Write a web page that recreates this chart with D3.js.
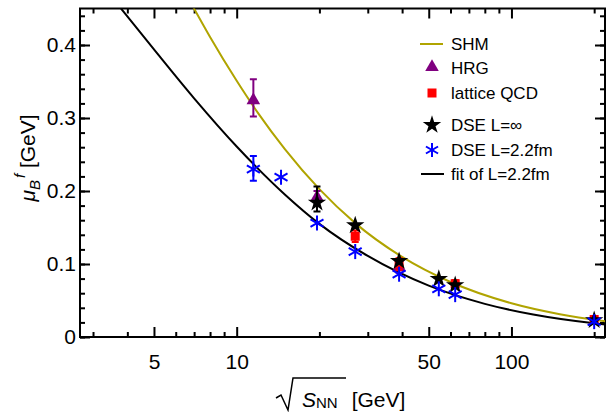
<!DOCTYPE html>
<meta charset="utf-8">
<style>
  body { margin: 0; background: #fff; }
  text { font-family: "Liberation Sans", Arial, sans-serif; }
</style>
<div id="chart"></div>
<script src="https://d3js.org/d3.v7.min.js"></script>
<script>

// curves
var shmEnergy = [6.9, 8, 10, 12, 15, 20, 27, 40, 60, 100, 150, 220];
var shmMu     = [0.454, 0.411, 0.351, 0.306, 0.257, 0.2025, 0.156, 0.1097, 0.0753, 0.0462, 0.0312, 0.0214];
var fitEnergy = [3.7, 5, 7, 10, 15, 20, 30, 50, 80, 120, 200, 220];
var fitMu     = [0.455, 0.394, 0.327, 0.261, 0.195, 0.155, 0.111, 0.0703, 0.0454, 0.0308, 0.0188, 0.0171];

// HRG points
var hrgEnergy = [11.5, 19.6, 39];
var hrgMu     = [0.323, 0.190, 0.094];
var hrgLow    = [0.302, 0.180, 0.088];
var hrgHigh   = [0.353, 0.200, 0.100];

// lattice QCD points
var latEnergy = [27, 39, 62.4, 200];
var latMu     = [0.138, 0.100, 0.073, 0.024];
var latLow    = [0.130, 0.092, 0.068, 0.020];
var latHigh   = [0.146, 0.108, 0.078, 0.028];

// DSE infinite volume
var dseEnergy = [19.6, 27, 39, 54.4, 62.4, 200];
var dseMu     = [0.184, 0.153, 0.104, 0.0795, 0.071, 0.023];

// DSE L=2.2fm
var dseLEnergy = [11.5, 14.5, 19.6, 27, 39, 54.4, 62.4, 200];
var dseLMu     = [0.230, 0.219, 0.156, 0.117, 0.086, 0.066, 0.058, 0.021];

var xMajor = [5, 10, 50, 100];
var yMajor = [0, 0.1, 0.2, 0.3, 0.4];

var W = 611, H = 412;
var pLeft = 80, pRight = 605, pTop = 8.5, pBottom = 337;

var svg = d3.select("#chart").append("svg")
  .attr("width", W).attr("height", H);

var x = d3.scaleLog().domain([2.69, 219]).range([pLeft, pRight]);
var y = d3.scaleLinear().domain([0, 0.45]).range([pBottom, pTop]);

var yMinor = d3.range(0, 0.45, 0.02).map(function(v){ return +v.toFixed(2); });
var xMinor = x.ticks().filter(function(v){ return xMajor.indexOf(v) < 0; });

svg.append("clipPath").attr("id", "plotclip")
  .append("rect").attr("x", pLeft).attr("y", pTop)
  .attr("width", pRight - pLeft).attr("height", pBottom - pTop);

// ticks on all four sides, pointing in
function styleAxis(g) {
  g.select(".domain").remove();
  g.selectAll(".tick line").attr("stroke", "#000").attr("stroke-width", 2);
  g.selectAll("text").style("font-size", "21px").attr("fill", "#000");
}
svg.append("g").attr("transform", "translate(0," + pBottom + ")")
  .call(d3.axisBottom(x).tickValues(xMajor).tickSize(-10).tickPadding(17).tickFormat(d3.format("d")))
  .call(styleAxis);
svg.append("g").attr("transform", "translate(0," + pBottom + ")")
  .call(d3.axisBottom(x).tickValues(xMinor).tickSize(-5).tickFormat(""))
  .call(styleAxis);
svg.append("g").attr("transform", "translate(0," + pTop + ")")
  .call(d3.axisTop(x).tickValues(xMajor).tickSize(-10).tickFormat(""))
  .call(styleAxis);
svg.append("g").attr("transform", "translate(0," + pTop + ")")
  .call(d3.axisTop(x).tickValues(xMinor).tickSize(-5).tickFormat(""))
  .call(styleAxis);
svg.append("g").attr("transform", "translate(" + pLeft + ",0)")
  .call(d3.axisLeft(y).tickValues(yMajor).tickSize(-10).tickPadding(4).tickFormat(function(d){ return d === 0 ? "0" : d3.format(".1f")(d); }))
  .call(styleAxis);
svg.append("g").attr("transform", "translate(" + pLeft + ",0)")
  .call(d3.axisLeft(y).tickValues(yMinor).tickSize(-5).tickFormat(""))
  .call(styleAxis);
svg.append("g").attr("transform", "translate(" + pRight + ",0)")
  .call(d3.axisRight(y).tickValues(yMajor).tickSize(-10).tickFormat(""))
  .call(styleAxis);
svg.append("g").attr("transform", "translate(" + pRight + ",0)")
  .call(d3.axisRight(y).tickValues(yMinor).tickSize(-5).tickFormat(""))
  .call(styleAxis);

svg.append("rect")
  .attr("x", pLeft).attr("y", pTop)
  .attr("width", pRight - pLeft).attr("height", pBottom - pTop)
  .attr("fill", "none").attr("stroke", "#000").attr("stroke-width", 2);

// curves
var line = d3.line()
  .x(function(d){ return x(d[0]); })
  .y(function(d){ return y(d[1]); })
  .curve(d3.curveMonotoneX);

var plot = svg.append("g").attr("clip-path", "url(#plotclip)");
plot.append("path")
  .attr("d", line(d3.zip(shmEnergy, shmMu)))
  .attr("fill", "none").attr("stroke", "#b0a400").attr("stroke-width", 2);
plot.append("path")
  .attr("d", line(d3.zip(fitEnergy, fitMu)))
  .attr("fill", "none").attr("stroke", "#000").attr("stroke-width", 2);

function errorBars(g, xs, lo, hi, color) {
  xs.forEach(function(e, i) {
    var px = x(e);
    g.append("line").attr("x1", px).attr("x2", px)
      .attr("y1", y(lo[i])).attr("y2", y(hi[i]))
      .attr("stroke", color).attr("stroke-width", 2);
    [lo[i], hi[i]].forEach(function(v) {
      g.append("line").attr("x1", px - 3.5).attr("x2", px + 3.5)
        .attr("y1", y(v)).attr("y2", y(v))
        .attr("stroke", color).attr("stroke-width", 2);
    });
  });
}

function asterisk(g, px, py, r, color) {
  [90, 30, -30].forEach(function(a) {
    var rad = a * Math.PI / 180;
    g.append("line")
      .attr("x1", px - r * Math.cos(rad)).attr("y1", py - r * Math.sin(rad))
      .attr("x2", px + r * Math.cos(rad)).attr("y2", py + r * Math.sin(rad))
      .attr("stroke", color).attr("stroke-width", 2);
  });
}

var triangle = d3.symbol().type(d3.symbolTriangle).size(80);
var star = d3.symbol().type(d3.symbolStar).size(105);

// HRG
errorBars(plot, hrgEnergy, hrgLow, hrgHigh, "#800080");
hrgEnergy.forEach(function(e, i) {
  plot.append("path").attr("d", triangle)
    .attr("transform", "translate(" + x(e) + "," + (y(hrgMu[i]) - 1) + ")")
    .attr("fill", "#800080");
});

// lattice QCD
errorBars(plot, latEnergy, latLow, latHigh, "#ff0000");
latEnergy.forEach(function(e, i) {
  plot.append("rect")
    .attr("x", x(e) - 4.5).attr("y", y(latMu[i]) - 4.5)
    .attr("width", 9).attr("height", 9).attr("fill", "#ff0000");
});

// DSE infinite
errorBars(plot, [19.6], [0.172], [0.206], "#000");
dseEnergy.forEach(function(e, i) {
  plot.append("path").attr("d", star)
    .attr("transform", "translate(" + x(e) + "," + y(dseMu[i]) + ")")
    .attr("fill", "#000");
});

// DSE L=2.2fm
errorBars(plot, [11.5], [0.214], [0.248], "#0000ff");
dseLEnergy.forEach(function(e, i) {
  asterisk(plot, x(e), y(dseLMu[i]), 7.5, "#0000ff");
});

// legend
var lg = svg.append("g").style("font-size", "17px");
var rows = [44, 68, 93, 125, 150, 174];
var labels = ["SHM", "HRG", "lattice QCD", "DSE L=\u221e", "DSE L=2.2fm", "fit of L=2.2fm"];
labels.forEach(function(t, i) {
  lg.append("text").attr("x", 451).attr("y", rows[i] + 6).text(t);
});
lg.append("line").attr("x1", 420).attr("x2", 443).attr("y1", rows[0]).attr("y2", rows[0])
  .attr("stroke", "#b0a400").attr("stroke-width", 2);
lg.append("path").attr("d", triangle).attr("transform", "translate(432," + (rows[1] - 1) + ")").attr("fill", "#800080");
lg.append("rect").attr("x", 427.5).attr("y", rows[2] - 4.5).attr("width", 9).attr("height", 9).attr("fill", "#ff0000");
lg.append("path").attr("d", star).attr("transform", "translate(432," + rows[3] + ")").attr("fill", "#000");
asterisk(lg, 432, rows[4], 7, "#0000ff");
lg.append("line").attr("x1", 421).attr("x2", 444).attr("y1", rows[5]).attr("y2", rows[5])
  .attr("stroke", "#000").attr("stroke-width", 2);

// y title
var yt = svg.append("text")
  .attr("transform", "translate(35,158) rotate(-90)")
  .attr("text-anchor", "middle")
  .style("font-size", "21px");
yt.append("tspan").style("font-style", "italic").text("\u03bc");
yt.append("tspan").style("font-style", "italic").style("font-size", "15px").attr("dy", 5).text("B");
yt.append("tspan").style("font-style", "italic").style("font-size", "15px").attr("dy", -15).attr("dx", 2).text("f");
yt.append("tspan").attr("dy", 10).text(" [GeV]");

// x title with radical sign
svg.append("path")
  .attr("d", "M276,398 L281,395 L288,410 L293,378 L346,378")
  .attr("fill", "none").attr("stroke", "#000").attr("stroke-width", 1.5);
var xt = svg.append("text").attr("x", 302).attr("y", 407).style("font-size", "21px");
xt.append("tspan").style("font-style", "italic").text("S");
xt.append("tspan").style("font-size", "15px").attr("dy", 1).text("NN");
xt.append("tspan").attr("dy", -1).attr("dx", 14).text("[GeV]");

</script>
